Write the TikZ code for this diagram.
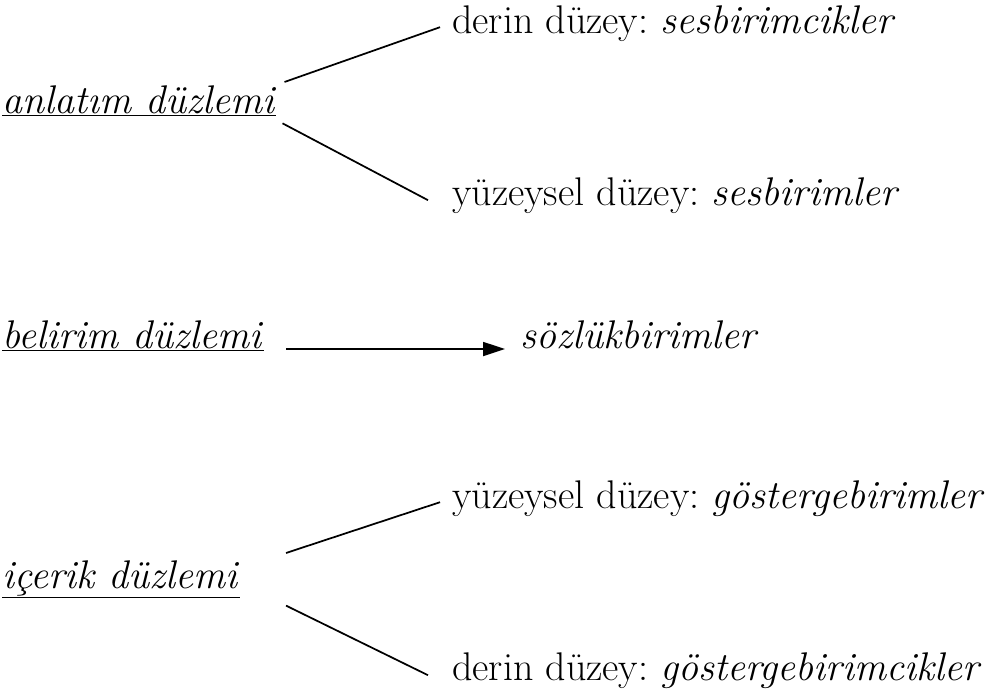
\documentclass[tikz,border=0pt]{standalone}
\usetikzlibrary{arrows.meta}
\frenchspacing
\tikzset{
  lbl/.style={anchor=base west,inner sep=0.75pt,font=\fontsize{30}{36}\selectfont},
  link/.style={line width=1.3pt}
}

\begin{document}
\begin{tikzpicture}[x=0.75pt,y=0.75pt,yscale=-1,xscale=1]
\path [use as bounding box] (0,0) rectangle (1000,694);

%Planes (left column)
\draw (1,113) node [lbl] (anlatim) {\underline{\textit{anlatım düzlemi}}};
\draw (1,348) node [lbl] (belirim) {\underline{\textit{belirim düzlemi}}};
\draw (1,588) node [lbl] (icerik) {\underline{\textit{içerik düzlemi}}};

%Levels (right column)
\draw (451,33) node [lbl] (derinA) {derin düzey: \textit{sesbirimcikler}};
\draw (451,205) node [lbl] (yuzeyA) {yüzeysel düzey: \textit{sesbirimler}};
\draw (519,348) node [lbl] (sozluk) {\textit{sözlükbirimler}};
\draw (451,508) node [lbl] (yuzeyB) {yüzeysel düzey: \textit{göstergebirimler}};
\draw (451,680) node [lbl] (derinB) {derin düzey: \textit{göstergebirimcikler}};

%Straight Lines
\draw [link] ([shift={(7,-2)}]anlatim.north east) -- ([shift={(-11,4)}]derinA.west) ;
\draw [link] ([shift={(5,6)}]anlatim.south east) -- ([shift={(-23,5)}]yuzeyA.west) ;
\draw [link] ([shift={(45,-6)}]icerik.north east) -- ([shift={(-11,4)}]yuzeyB.west) ;
\draw [link] ([shift={(45,6)}]icerik.south east) -- ([shift={(-23,5)}]derinB.west) ;
%Arrow
\draw [link,-{Triangle[length=16.5pt,width=10.5pt]}] ([shift={(21,1)}]belirim.base east) -- ([shift={(-14,1)}]sozluk.base west) ;
\end{tikzpicture}
\end{document}
